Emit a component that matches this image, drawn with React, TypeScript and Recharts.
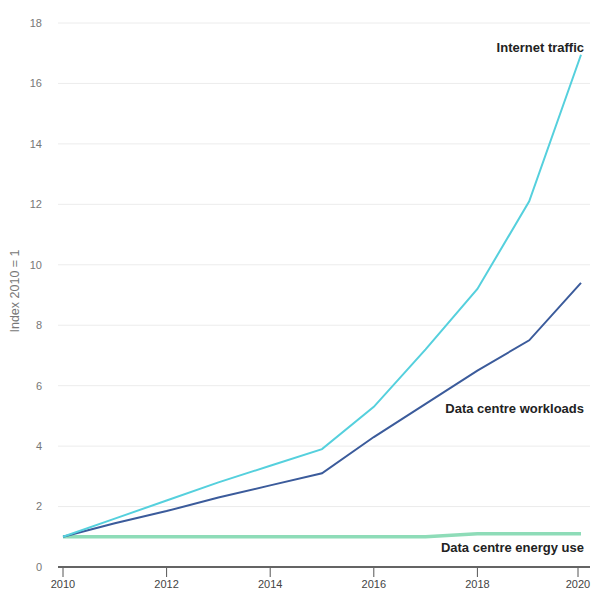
import { CartesianGrid, Line, LineChart, ReferenceDot, XAxis, YAxis } from "recharts";

const years = [2010, 2011, 2012, 2013, 2014, 2015, 2016, 2017, 2018, 2019, 2020];
const internetTraffic = [1, 1.6, 2.2, 2.8, 3.35, 3.9, 5.3, 7.2, 9.2, 12.1, 16.95];
const workloads = [1, 1.45, 1.85, 2.3, 2.7, 3.1, 4.3, 5.4, 6.5, 7.5, 9.4];
const energyUse = [1, 1, 1, 1, 1, 1, 1, 1, 1.1, 1.1, 1.1];
const xTicks = [2010, 2012, 2014, 2016, 2018, 2020];
const yTicks = [0, 2, 4, 6, 8, 10, 12, 14, 16, 18];

const data = years.map((year, i) => ({
  year,
  internet: internetTraffic[i],
  workloads: workloads[i],
  energy: energyUse[i],
}));

const font = "'Liberation Sans Narrow', 'Liberation Sans', Arial, sans-serif";

function XTick({ x, y, payload }: any) {
  return (
    <g>
      <line x1={x} x2={x} y1={y + 2} y2={y - 7} stroke="#555" strokeWidth={1} />
      <text x={x} y={y + 13} textAnchor="middle" fontSize={11} fill="#444" fontFamily={font}>
        {payload.value}
      </text>
    </g>
  );
}

function seriesLabel(text: string, dy: number) {
  return ({ viewBox }: any) => (
    <text
      x={viewBox.x + 3}
      y={viewBox.y + dy}
      textAnchor="end"
      fontSize={13}
      fontWeight="bold"
      fill="#222"
      fontFamily={font}
    >
      {text}
    </text>
  );
}

export default function App() {
  return (
    <div style={{ position: "absolute", left: 0, top: 0, background: "#fff" }}>
      <LineChart width={594} height={595} data={data} margin={{ top: 23, right: 4, bottom: 0, left: 0 }}>
        <CartesianGrid vertical={false} stroke="#ececec" />
        <XAxis
          dataKey="year"
          type="number"
          domain={[2010, 2020]}
          ticks={xTicks}
          padding={{ left: 5, right: 9 }}
          height={28}
          axisLine={{ stroke: "#333", strokeWidth: 1.5 }}
          tickLine={false}
          tick={<XTick />}
        />
        <YAxis
          domain={[0, 18]}
          ticks={yTicks}
          width={58}
          axisLine={false}
          tickLine={false}
          tick={{ fontSize: 11, fill: "#777", fontFamily: font, dx: -8 }}
          label={{
            value: "Index 2010 = 1",
            angle: -90,
            position: "insideLeft",
            dx: 10,
            dy: -4,
            style: { fontSize: 12.5, fill: "#777", fontFamily: font, textAnchor: "middle" },
          }}
        />
        <Line dataKey="energy" stroke="#8edcb8" strokeWidth={3.5} dot={false} isAnimationActive={false} />
        <Line dataKey="workloads" stroke="#3b5b9b" strokeWidth={2} dot={false} isAnimationActive={false} />
        <Line dataKey="internet" stroke="#55d0dd" strokeWidth={2} dot={false} isAnimationActive={false} />
        <ReferenceDot x={2020} y={16.95} r={0} label={seriesLabel("Internet traffic", -3)} />
        <ReferenceDot x={2020} y={5.3} r={0} label={seriesLabel("Data centre workloads", 6)} />
        <ReferenceDot x={2020} y={1.1} r={0} label={seriesLabel("Data centre energy use", 18)} />
      </LineChart>
    </div>
  );
}
